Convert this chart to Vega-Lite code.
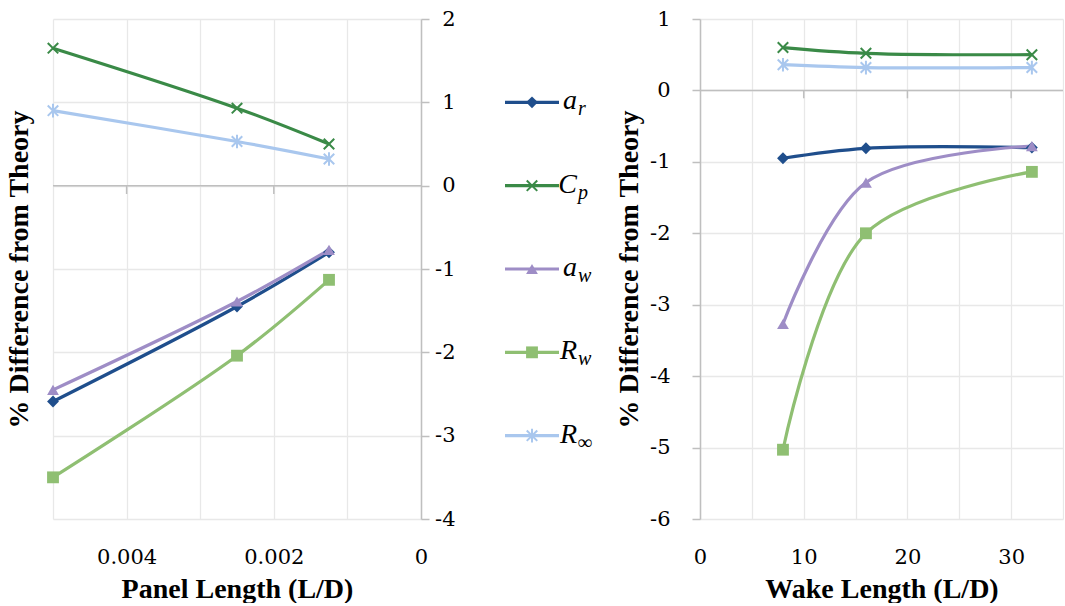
{
  "$schema": "https://vega.github.io/schema/vega-lite/v6.json",
  "background": "white",
  "padding": {"left": 5, "top": 8, "right": 0, "bottom": 0},
  "spacing": 10,
  "config": {
    "view": {"stroke": null},
    "axis": {
      "labelFont": "DejaVu Serif", "labelFontSize": 21, "labelColor": "#000000",
      "titleFont": "Liberation Serif", "titleFontSize": 28, "titleFontWeight": "bold", "titleColor": "#000000",
      "gridColor": "#e8e8e8", "gridWidth": 1.3,
      "domainColor": "#bfbfbf", "domainWidth": 1.5, "tickColor": "#bfbfbf", "tickWidth": 1.5,
      "labelFlush": false, "labelOverlap": false
    }
  },
  "datasets": {
    "panel": [
      {"series": "ar", "x": 0.005, "y": -2.59}, {"series": "ar", "x": 0.0025, "y": -1.45}, {"series": "ar", "x": 0.00125, "y": -0.80},
      {"series": "Cp", "x": 0.005, "y": 1.65}, {"series": "Cp", "x": 0.0025, "y": 0.93}, {"series": "Cp", "x": 0.00125, "y": 0.50},
      {"series": "aw", "x": 0.005, "y": -2.45}, {"series": "aw", "x": 0.0025, "y": -1.39}, {"series": "aw", "x": 0.00125, "y": -0.77},
      {"series": "Rw", "x": 0.005, "y": -3.50}, {"series": "Rw", "x": 0.0025, "y": -2.04}, {"series": "Rw", "x": 0.00125, "y": -1.13},
      {"series": "Rinf", "x": 0.005, "y": 0.90}, {"series": "Rinf", "x": 0.0025, "y": 0.53}, {"series": "Rinf", "x": 0.00125, "y": 0.32}
    ],
    "wake": [
      {"series": "ar", "x": 8, "y": -0.95}, {"series": "ar", "x": 16, "y": -0.81}, {"series": "ar", "x": 32, "y": -0.80},
      {"series": "Cp", "x": 8, "y": 0.60}, {"series": "Cp", "x": 16, "y": 0.52}, {"series": "Cp", "x": 32, "y": 0.50},
      {"series": "aw", "x": 8, "y": -3.27}, {"series": "aw", "x": 16, "y": -1.29}, {"series": "aw", "x": 32, "y": -0.78},
      {"series": "Rw", "x": 8, "y": -5.03}, {"series": "Rw", "x": 16, "y": -2.00}, {"series": "Rw", "x": 32, "y": -1.14},
      {"series": "Rinf", "x": 8, "y": 0.36}, {"series": "Rinf", "x": 16, "y": 0.32}, {"series": "Rinf", "x": 32, "y": 0.32}
    ],
    "legend": [
      {"series": "ar", "main": "a", "sub": "r"},
      {"series": "Cp", "main": "C", "sub": "p"},
      {"series": "aw", "main": "a", "sub": "w"},
      {"series": "Rw", "main": "R", "sub": "w"},
      {"series": "Rinf", "main": "R", "sub": "∞"}
    ],
    "one": [{"k": 0}],
    "ticksL": [{"x": 0.004}, {"x": 0.002}],
    "ticksR": [{"x": 10}, {"x": 20}, {"x": 30}]
  },
  "hconcat": [
    {
      "width": 368, "height": 500,
      "data": {"name": "panel"},
      "resolve": {"axis": {"y": "independent"}},
      "layer": [
        {
          "data": {"name": "one"},
          "mark": {"type": "rule", "color": "#bfbfbf", "strokeWidth": 1.5},
          "encoding": {
            "y": {"datum": 0, "type": "quantitative", "scale": {"domain": [-4, 2], "nice": false},
              "axis": {"orient": "left", "title": "% Difference from Theory", "labels": false, "ticks": false, "domain": false, "grid": false, "titlePadding": 20}}
          }
        },
        {
          "mark": {"type": "line", "interpolate": "catmull-rom", "strokeWidth": 3.2},
          "encoding": {
            "x": {"field": "x", "type": "quantitative", "scale": {"domain": [0, 0.005], "reverse": true, "nice": false},
              "axis": {"values": [0, 0.001, 0.002, 0.003, 0.004, 0.005], "format": ".3~f",
                "labelExpr": "indexof(['0','0.002','0.004'], datum.label) >= 0 ? datum.label : ''",
                "ticks": false, "domain": false, "grid": true, "labelPadding": 27, "title": "Panel Length (L/D)", "titlePadding": 8}},
            "y": {"field": "y", "type": "quantitative", "scale": {"domain": [-4, 2], "nice": false},
              "axis": {"orient": "right", "values": [-4, -3, -2, -1, 0, 1, 2], "format": "d", "labelExpr": "replace(datum.label, '\u2212', '-')", "title": null, "grid": true, "tickSize": 8, "labelAlign": "right", "labelPadding": 26}},
            "color": {"field": "series", "type": "nominal", "scale": {"domain": ["ar", "Cp", "aw", "Rw", "Rinf"], "range": ["#1F4E8C", "#3A8A47", "#9E8DC6", "#8FBF72", "#A9C7EE"]}, "legend": null}
          }
        },
        {
          "data": {"name": "ticksL"},
          "mark": {"type": "rule", "color": "#bfbfbf", "strokeWidth": 1.5},
          "encoding": {
            "x": {"field": "x", "type": "quantitative", "scale": {"domain": [0, 0.005], "reverse": true, "nice": false}},
            "y": {"datum": 0, "type": "quantitative", "scale": {"domain": [-4, 2], "nice": false}, "axis": null},
            "y2": {"datum": -0.1}
          }
        },
        {
          "transform": [{"filter": {"field": "series", "oneOf": ["ar", "aw", "Rw"]}}],
          "mark": {"type": "point", "filled": true, "size": 140, "opacity": 1},
          "encoding": {
            "x": {"field": "x", "type": "quantitative", "scale": {"domain": [0, 0.005], "reverse": true, "nice": false}},
            "y": {"field": "y", "type": "quantitative", "scale": {"domain": [-4, 2], "nice": false}, "axis": null},
            "color": {"field": "series", "type": "nominal", "scale": {"domain": ["ar", "Cp", "aw", "Rw", "Rinf"], "range": ["#1F4E8C", "#3A8A47", "#9E8DC6", "#8FBF72", "#A9C7EE"]}, "legend": null},
            "shape": {"field": "series", "type": "nominal", "scale": {"domain": ["ar", "Cp", "aw", "Rw", "Rinf"], "range": ["diamond", "M-1,-1L1,1M-1,1L1,-1", "triangle-up", "square", "M-1,-1L1,1M-1,1L1,-1M0,-1.3L0,1.3"]}, "legend": null}
          }
        },
        {
          "transform": [{"filter": {"field": "series", "oneOf": ["Cp", "Rinf"]}}],
          "mark": {"type": "point", "filled": false, "size": 110, "strokeWidth": 2, "opacity": 1},
          "encoding": {
            "x": {"field": "x", "type": "quantitative", "scale": {"domain": [0, 0.005], "reverse": true, "nice": false}},
            "y": {"field": "y", "type": "quantitative", "scale": {"domain": [-4, 2], "nice": false}, "axis": null},
            "color": {"field": "series", "type": "nominal", "scale": {"domain": ["ar", "Cp", "aw", "Rw", "Rinf"], "range": ["#1F4E8C", "#3A8A47", "#9E8DC6", "#8FBF72", "#A9C7EE"]}, "legend": null},
            "shape": {"field": "series", "type": "nominal", "scale": {"domain": ["ar", "Cp", "aw", "Rw", "Rinf"], "range": ["diamond", "M-1,-1L1,1M-1,1L1,-1", "triangle-up", "square", "M-1,-1L1,1M-1,1L1,-1M0,-1.3L0,1.3"]}, "legend": null}
          }
        }
      ]
    },
    {
      "width": 140, "height": 500,
      "data": {"name": "legend"},
      "encoding": {
        "y": {"field": "series", "type": "nominal", "scale": {"type": "point", "domain": ["ar", "Cp", "aw", "Rw", "Rinf"], "padding": 1.76}, "axis": null}
      },
      "layer": [
        {
          "mark": {"type": "rule", "strokeWidth": 3.2},
          "encoding": {
            "x": {"datum": 40, "type": "quantitative", "scale": {"domain": [0, 140], "nice": false}, "axis": null},
            "x2": {"datum": 94},
            "color": {"field": "series", "type": "nominal", "scale": {"domain": ["ar", "Cp", "aw", "Rw", "Rinf"], "range": ["#1F4E8C", "#3A8A47", "#9E8DC6", "#8FBF72", "#A9C7EE"]}, "legend": null}
          }
        },
        {
          "transform": [{"filter": {"field": "series", "oneOf": ["ar", "aw", "Rw"]}}],
          "mark": {"type": "point", "filled": true, "size": 140, "opacity": 1},
          "encoding": {
            "x": {"datum": 67, "type": "quantitative", "scale": {"domain": [0, 140], "nice": false}, "axis": null},
            "color": {"field": "series", "type": "nominal", "scale": {"domain": ["ar", "Cp", "aw", "Rw", "Rinf"], "range": ["#1F4E8C", "#3A8A47", "#9E8DC6", "#8FBF72", "#A9C7EE"]}, "legend": null},
            "shape": {"field": "series", "type": "nominal", "scale": {"domain": ["ar", "Cp", "aw", "Rw", "Rinf"], "range": ["diamond", "M-1,-1L1,1M-1,1L1,-1", "triangle-up", "square", "M-1,-1L1,1M-1,1L1,-1M0,-1.3L0,1.3"]}, "legend": null}
          }
        },
        {
          "transform": [{"filter": {"field": "series", "oneOf": ["Cp", "Rinf"]}}],
          "mark": {"type": "point", "filled": false, "size": 110, "strokeWidth": 2, "opacity": 1},
          "encoding": {
            "x": {"datum": 67, "type": "quantitative", "scale": {"domain": [0, 140], "nice": false}, "axis": null},
            "color": {"field": "series", "type": "nominal", "scale": {"domain": ["ar", "Cp", "aw", "Rw", "Rinf"], "range": ["#1F4E8C", "#3A8A47", "#9E8DC6", "#8FBF72", "#A9C7EE"]}, "legend": null},
            "shape": {"field": "series", "type": "nominal", "scale": {"domain": ["ar", "Cp", "aw", "Rw", "Rinf"], "range": ["diamond", "M-1,-1L1,1M-1,1L1,-1", "triangle-up", "square", "M-1,-1L1,1M-1,1L1,-1M0,-1.3L0,1.3"]}, "legend": null}
          }
        },
        {
          "mark": {"type": "text", "font": "Liberation Serif", "fontStyle": "italic", "fontSize": 28, "align": "right", "baseline": "alphabetic", "dy": 7, "color": "#000000"},
          "encoding": {
            "x": {"datum": 112, "type": "quantitative", "scale": {"domain": [0, 140], "nice": false}, "axis": null},
            "text": {"field": "main"}
          }
        },
        {
          "mark": {"type": "text", "font": "Liberation Serif", "fontStyle": "italic", "fontSize": 20, "align": "left", "baseline": "alphabetic", "dy": 13, "color": "#000000"},
          "encoding": {
            "x": {"datum": 113, "type": "quantitative", "scale": {"domain": [0, 140], "nice": false}, "axis": null},
            "text": {"field": "sub"}
          }
        }
      ]
    },
    {
      "width": 363, "height": 500,
      "data": {"name": "wake"},
      "layer": [
        {
          "mark": {"type": "line", "interpolate": "catmull-rom", "strokeWidth": 3.2},
          "encoding": {
            "x": {"field": "x", "type": "quantitative", "scale": {"domain": [0, 35], "nice": false},
              "axis": {"values": [0, 5, 10, 15, 20, 25, 30, 35],
                "labelExpr": "datum.value % 10 == 0 ? datum.label : ''",
                "ticks": false, "domain": false, "grid": true, "labelPadding": 27, "title": "Wake Length (L/D)", "titlePadding": 8}},
            "y": {"field": "y", "type": "quantitative", "scale": {"domain": [-6, 1], "nice": false},
              "axis": {"orient": "left", "values": [-6, -5, -4, -3, -2, -1, 0, 1], "format": "d", "labelExpr": "replace(datum.label, '\u2212', '-')", "title": "% Difference from Theory", "grid": true, "tickSize": 8, "labelPadding": 22, "titlePadding": 6}},
            "color": {"field": "series", "type": "nominal", "scale": {"domain": ["ar", "Cp", "aw", "Rw", "Rinf"], "range": ["#1F4E8C", "#3A8A47", "#9E8DC6", "#8FBF72", "#A9C7EE"]}, "legend": null}
          }
        },
        {
          "data": {"name": "one"},
          "mark": {"type": "rule", "color": "#bfbfbf", "strokeWidth": 1.5},
          "encoding": {
            "y": {"datum": 0, "type": "quantitative", "scale": {"domain": [-6, 1], "nice": false}}
          }
        },
        {
          "data": {"name": "ticksR"},
          "mark": {"type": "rule", "color": "#bfbfbf", "strokeWidth": 1.5},
          "encoding": {
            "x": {"field": "x", "type": "quantitative", "scale": {"domain": [0, 35], "nice": false}},
            "y": {"datum": 0, "type": "quantitative", "scale": {"domain": [-6, 1], "nice": false}},
            "y2": {"datum": -0.11}
          }
        },
        {
          "transform": [{"filter": {"field": "series", "oneOf": ["ar", "aw", "Rw"]}}],
          "mark": {"type": "point", "filled": true, "size": 140, "opacity": 1},
          "encoding": {
            "x": {"field": "x", "type": "quantitative", "scale": {"domain": [0, 35], "nice": false}},
            "y": {"field": "y", "type": "quantitative", "scale": {"domain": [-6, 1], "nice": false}},
            "color": {"field": "series", "type": "nominal", "scale": {"domain": ["ar", "Cp", "aw", "Rw", "Rinf"], "range": ["#1F4E8C", "#3A8A47", "#9E8DC6", "#8FBF72", "#A9C7EE"]}, "legend": null},
            "shape": {"field": "series", "type": "nominal", "scale": {"domain": ["ar", "Cp", "aw", "Rw", "Rinf"], "range": ["diamond", "M-1,-1L1,1M-1,1L1,-1", "triangle-up", "square", "M-1,-1L1,1M-1,1L1,-1M0,-1.3L0,1.3"]}, "legend": null}
          }
        },
        {
          "transform": [{"filter": {"field": "series", "oneOf": ["Cp", "Rinf"]}}],
          "mark": {"type": "point", "filled": false, "size": 110, "strokeWidth": 2, "opacity": 1},
          "encoding": {
            "x": {"field": "x", "type": "quantitative", "scale": {"domain": [0, 35], "nice": false}},
            "y": {"field": "y", "type": "quantitative", "scale": {"domain": [-6, 1], "nice": false}},
            "color": {"field": "series", "type": "nominal", "scale": {"domain": ["ar", "Cp", "aw", "Rw", "Rinf"], "range": ["#1F4E8C", "#3A8A47", "#9E8DC6", "#8FBF72", "#A9C7EE"]}, "legend": null},
            "shape": {"field": "series", "type": "nominal", "scale": {"domain": ["ar", "Cp", "aw", "Rw", "Rinf"], "range": ["diamond", "M-1,-1L1,1M-1,1L1,-1", "triangle-up", "square", "M-1,-1L1,1M-1,1L1,-1M0,-1.3L0,1.3"]}, "legend": null}
          }
        }
      ]
    }
  ]
}
